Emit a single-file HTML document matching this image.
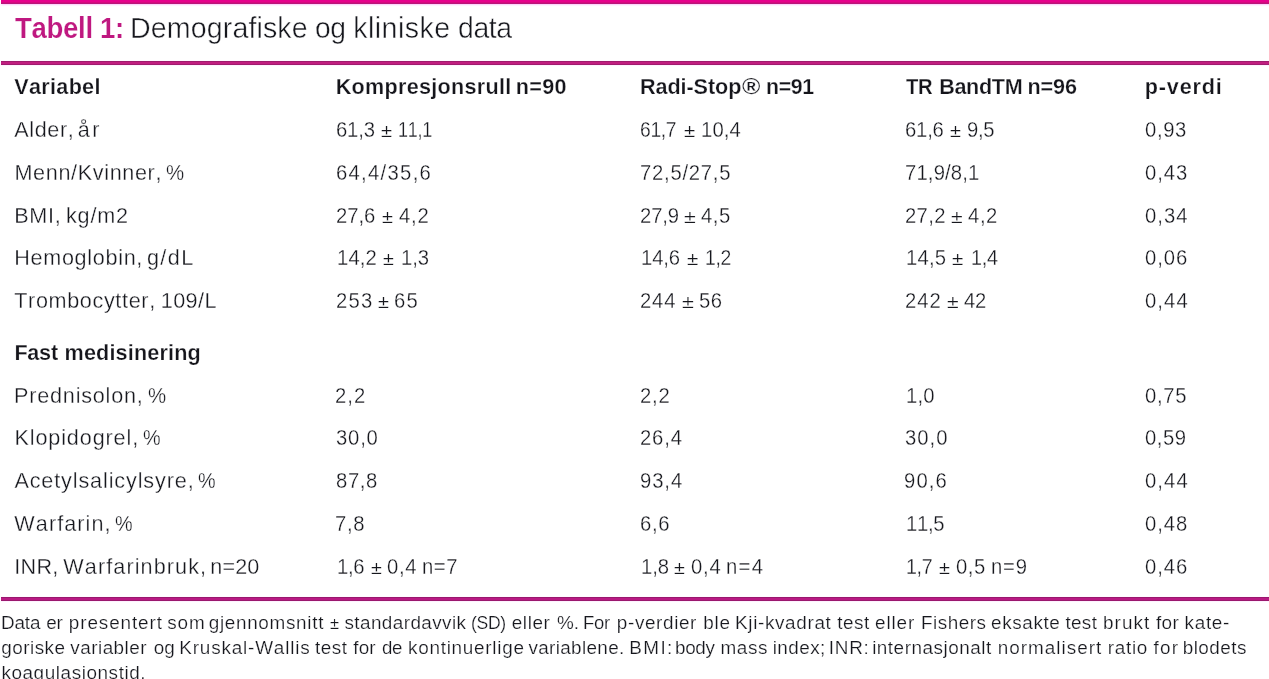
<!DOCTYPE html>
<html lang="no"><head><meta charset="utf-8"><title>Tabell 1</title>
<style>
html,body{margin:0;padding:0;background:#fff;}
body{width:1269px;height:679px;position:relative;overflow:hidden;font-family:"Liberation Sans", sans-serif;color:#16171d;}
.t{position:absolute;white-space:pre;line-height:1;font-kerning:none;transform-origin:0 0;}
.bar{position:absolute;left:1px;right:0;}
.g{display:block;margin:0;padding:0;border:0;height:0;font:inherit;}
</style></head><body>
<div class="bar" style="top:0;height:4px;background:linear-gradient(to bottom,#e6008c 0,#e6008c 2px,#d4087e 2px,#d4087e 3px,#b9147a 3px,#b9147a 4px);box-shadow:0 1px 1.5px 0.5px #fcd6fb"></div>
<div class="bar" style="top:61px;height:4px;background:linear-gradient(to bottom,#a01a6e 0,#a01a6e 1px,#c11e80 1px,#c11e80 3px,#a01a6e 3px,#a01a6e 4px);box-shadow:0 0 1.5px 0.5px #fcd6fb"></div>
<div class="bar" style="top:597px;height:4px;background:linear-gradient(to bottom,#9a186e 0,#9a186e 1px,#b91a83 1px,#b91a83 3px,#9a186e 3px,#9a186e 4px);box-shadow:0 0 1.5px 0.5px #fcd6fb"></div>
<h1 class="g">
<span class="t" style="left:14.79px;top:14.00px;font-size:28.6px;letter-spacing:-0.350px;transform:scaleX(0.9651);font-weight:700;-webkit-text-stroke:0.2px #fff;color:#bf1880;">Tabell 1:</span>
<span class="t" style="left:130.03px;top:14.00px;font-size:28.6px;letter-spacing:0.112px;-webkit-text-stroke:0.45px #fff;">Demografiske</span>
<span class="t" style="left:314.99px;top:14.00px;font-size:28.6px;letter-spacing:-0.350px;transform:scaleX(0.9871);-webkit-text-stroke:0.45px #fff;">og</span>
<span class="t" style="left:353.15px;top:14.00px;font-size:28.6px;letter-spacing:0.468px;-webkit-text-stroke:0.45px #fff;">kliniske</span>
<span class="t" style="left:457.58px;top:14.00px;font-size:28.6px;letter-spacing:-0.350px;transform:scaleX(0.9913);-webkit-text-stroke:0.45px #fff;">data</span>
</h1>
<div class="g" role="table">
<div class="g" role="row">
<div class="g" role="columnheader">
<span class="t" style="left:14.33px;top:76.00px;font-size:21.6px;letter-spacing:0.297px;font-weight:700;-webkit-text-stroke:0.25px #fff;color:#15151b;">Variabel</span>
</div>
<div class="g" role="columnheader">
<span class="t" style="left:335.73px;top:76.00px;font-size:21.6px;letter-spacing:0.285px;font-weight:700;-webkit-text-stroke:0.25px #fff;color:#15151b;">Kompresjonsrull</span>
<span class="t" style="left:515.75px;top:76.00px;font-size:21.6px;letter-spacing:0.342px;font-weight:700;-webkit-text-stroke:0.25px #fff;color:#15151b;">n=90</span>
</div>
<div class="g" role="columnheader">
<span class="t" style="left:639.93px;top:76.00px;font-size:21.6px;letter-spacing:-0.063px;font-weight:700;-webkit-text-stroke:0.25px #fff;color:#15151b;">Radi-Stop</span>
<span class="t" style="left:742.18px;top:76.00px;font-size:21.6px;letter-spacing:0.000px;transform:scaleX(1.1573);font-weight:700;-webkit-text-stroke:0.25px #fff;color:#15151b;">®</span>
<span class="t" style="left:766.07px;top:76.00px;font-size:21.6px;letter-spacing:-0.350px;transform:scaleX(0.987);font-weight:700;-webkit-text-stroke:0.25px #fff;color:#15151b;">n=91</span>
</div>
<div class="g" role="columnheader">
<span class="t" style="left:905.95px;top:76.00px;font-size:21.6px;letter-spacing:-0.350px;transform:scaleX(0.9349);font-weight:700;-webkit-text-stroke:0.25px #fff;color:#15151b;">TR</span>
<span class="t" style="left:939.13px;top:76.00px;font-size:21.6px;letter-spacing:-0.329px;font-weight:700;-webkit-text-stroke:0.25px #fff;color:#15151b;">BandTM</span>
<span class="t" style="left:1027.45px;top:76.00px;font-size:21.6px;letter-spacing:-0.060px;font-weight:700;-webkit-text-stroke:0.25px #fff;color:#15151b;">n=96</span>
</div>
<div class="g" role="columnheader">
<span class="t" style="left:1144.85px;top:76.00px;font-size:21.6px;letter-spacing:0.798px;font-weight:700;-webkit-text-stroke:0.25px #fff;color:#15151b;">p-verdi</span>
</div>
</div>
<div class="g" role="row">
<div class="g" role="cell">
<span class="t" style="left:14.31px;top:119.00px;font-size:21.6px;letter-spacing:0.611px;-webkit-text-stroke:0.3px #fff;">Alder,</span>
<span class="t" style="left:77.83px;top:119.00px;font-size:21.6px;letter-spacing:2.470px;-webkit-text-stroke:0.3px #fff;">år</span>
</div>
<div class="g" role="cell">
<span class="t" style="left:335.92px;top:119.00px;font-size:22.5px;letter-spacing:-0.183px;transform:scaleX(0.9);-webkit-text-stroke:0.3px #fff;">61,3</span>
<span class="t" style="left:381.05px;top:122.00px;font-size:18.9px;letter-spacing:0.000px;transform:scaleX(1.0694);-webkit-text-stroke:0.22px #fff;">±</span>
<span class="t" style="left:398.48px;top:119.00px;font-size:22.5px;letter-spacing:-0.350px;transform:scaleX(0.7989);-webkit-text-stroke:0.3px #fff;">11,1</span>
</div>
<div class="g" role="cell">
<span class="t" style="left:640.17px;top:119.00px;font-size:22.5px;letter-spacing:-0.350px;transform:scaleX(0.855);-webkit-text-stroke:0.3px #fff;">61,7</span>
<span class="t" style="left:683.64px;top:122.00px;font-size:18.9px;letter-spacing:0.000px;transform:scaleX(1.0803);-webkit-text-stroke:0.22px #fff;">±</span>
<span class="t" style="left:701.41px;top:119.00px;font-size:22.5px;letter-spacing:0.157px;transform:scaleX(0.9);-webkit-text-stroke:0.3px #fff;">10,4</span>
</div>
<div class="g" role="cell">
<span class="t" style="left:905.02px;top:119.00px;font-size:22.5px;letter-spacing:-0.220px;transform:scaleX(0.9);-webkit-text-stroke:0.3px #fff;">61,6</span>
<span class="t" style="left:949.96px;top:122.00px;font-size:18.9px;letter-spacing:0.000px;transform:scaleX(1.0585);-webkit-text-stroke:0.22px #fff;">±</span>
<span class="t" style="left:966.90px;top:119.00px;font-size:22.5px;letter-spacing:-0.350px;transform:scaleX(0.8993);-webkit-text-stroke:0.3px #fff;">9,5</span>
</div>
<div class="g" role="cell">
<span class="t" style="left:1145.26px;top:119.00px;font-size:22.5px;letter-spacing:0.692px;transform:scaleX(0.9);-webkit-text-stroke:0.3px #fff;">0,93</span>
</div>
</div>
<div class="g" role="row">
<div class="g" role="cell">
<span class="t" style="left:14.48px;top:162.00px;font-size:21.6px;letter-spacing:0.645px;-webkit-text-stroke:0.3px #fff;">Menn/Kvinner,</span>
<span class="t" style="left:166.02px;top:162.00px;font-size:21.6px;letter-spacing:0.000px;transform:scaleX(0.9453);-webkit-text-stroke:0.3px #fff;">%</span>
</div>
<div class="g" role="cell">
<span class="t" style="left:335.92px;top:162.00px;font-size:22.5px;letter-spacing:1.440px;transform:scaleX(0.9);-webkit-text-stroke:0.3px #fff;">64,4/35,6</span>
</div>
<div class="g" role="cell">
<span class="t" style="left:640.21px;top:162.00px;font-size:22.5px;letter-spacing:0.839px;transform:scaleX(0.9);-webkit-text-stroke:0.3px #fff;">72,5/27,5</span>
</div>
<div class="g" role="cell">
<span class="t" style="left:904.81px;top:162.00px;font-size:22.5px;letter-spacing:0.181px;transform:scaleX(0.9);-webkit-text-stroke:0.3px #fff;">71,9/8,1</span>
</div>
<div class="g" role="cell">
<span class="t" style="left:1145.26px;top:162.00px;font-size:22.5px;letter-spacing:1.099px;transform:scaleX(0.9);-webkit-text-stroke:0.3px #fff;">0,43</span>
</div>
</div>
<div class="g" role="row">
<div class="g" role="cell">
<span class="t" style="left:14.18px;top:205.00px;font-size:21.6px;letter-spacing:0.737px;-webkit-text-stroke:0.3px #fff;">BMI,</span>
<span class="t" style="left:65.99px;top:205.00px;font-size:21.6px;letter-spacing:0.805px;-webkit-text-stroke:0.3px #fff;">kg/m2</span>
</div>
<div class="g" role="cell">
<span class="t" style="left:336.13px;top:205.00px;font-size:22.5px;letter-spacing:-0.039px;transform:scaleX(0.9);-webkit-text-stroke:0.3px #fff;">27,6</span>
<span class="t" style="left:381.96px;top:208.00px;font-size:18.9px;letter-spacing:0.000px;transform:scaleX(1.0585);-webkit-text-stroke:0.22px #fff;">±</span>
<span class="t" style="left:399.09px;top:205.00px;font-size:22.5px;letter-spacing:0.907px;transform:scaleX(0.9);-webkit-text-stroke:0.3px #fff;">4,2</span>
</div>
<div class="g" role="cell">
<span class="t" style="left:639.83px;top:205.00px;font-size:22.5px;letter-spacing:-0.124px;transform:scaleX(0.9);-webkit-text-stroke:0.3px #fff;">27,9</span>
<span class="t" style="left:683.81px;top:208.00px;font-size:18.9px;letter-spacing:0.000px;transform:scaleX(1.1348);-webkit-text-stroke:0.22px #fff;">±</span>
<span class="t" style="left:701.49px;top:205.00px;font-size:22.5px;letter-spacing:0.647px;transform:scaleX(0.9);-webkit-text-stroke:0.3px #fff;">4,5</span>
</div>
<div class="g" role="cell">
<span class="t" style="left:904.73px;top:205.00px;font-size:22.5px;letter-spacing:0.379px;transform:scaleX(0.9);-webkit-text-stroke:0.3px #fff;">27,2</span>
<span class="t" style="left:951.02px;top:208.00px;font-size:18.9px;letter-spacing:0.000px;transform:scaleX(1.1239);-webkit-text-stroke:0.22px #fff;">±</span>
<span class="t" style="left:968.29px;top:205.00px;font-size:22.5px;letter-spacing:0.685px;transform:scaleX(0.9);-webkit-text-stroke:0.3px #fff;">4,2</span>
</div>
<div class="g" role="cell">
<span class="t" style="left:1145.26px;top:205.00px;font-size:22.5px;letter-spacing:1.138px;transform:scaleX(0.9);-webkit-text-stroke:0.3px #fff;">0,34</span>
</div>
</div>
<div class="g" role="row">
<div class="g" role="cell">
<span class="t" style="left:14.28px;top:247.00px;font-size:21.6px;letter-spacing:0.684px;-webkit-text-stroke:0.3px #fff;">Hemoglobin,</span>
<span class="t" style="left:146.94px;top:247.00px;font-size:21.6px;letter-spacing:1.428px;-webkit-text-stroke:0.3px #fff;">g/dL</span>
</div>
<div class="g" role="cell">
<span class="t" style="left:337.41px;top:247.00px;font-size:22.5px;letter-spacing:0.129px;transform:scaleX(0.9);-webkit-text-stroke:0.3px #fff;">14,2</span>
<span class="t" style="left:383.26px;top:250.00px;font-size:18.9px;letter-spacing:0.000px;transform:scaleX(1.0477);-webkit-text-stroke:0.22px #fff;">±</span>
<span class="t" style="left:400.81px;top:247.00px;font-size:22.5px;letter-spacing:-0.121px;transform:scaleX(0.9);-webkit-text-stroke:0.3px #fff;">1,3</span>
</div>
<div class="g" role="cell">
<span class="t" style="left:641.11px;top:247.00px;font-size:22.5px;letter-spacing:-0.141px;transform:scaleX(0.9);-webkit-text-stroke:0.3px #fff;">14,6</span>
<span class="t" style="left:686.64px;top:250.00px;font-size:18.9px;letter-spacing:0.000px;transform:scaleX(1.0912);-webkit-text-stroke:0.22px #fff;">±</span>
<span class="t" style="left:705.07px;top:247.00px;font-size:22.5px;letter-spacing:-0.350px;transform:scaleX(0.8618);-webkit-text-stroke:0.3px #fff;">1,2</span>
</div>
<div class="g" role="cell">
<span class="t" style="left:906.41px;top:247.00px;font-size:22.5px;letter-spacing:0.252px;transform:scaleX(0.9);-webkit-text-stroke:0.3px #fff;">14,5</span>
<span class="t" style="left:952.44px;top:250.00px;font-size:18.9px;letter-spacing:0.000px;transform:scaleX(1.0912);-webkit-text-stroke:0.22px #fff;">±</span>
<span class="t" style="left:970.94px;top:247.00px;font-size:22.5px;letter-spacing:-0.350px;transform:scaleX(0.8793);-webkit-text-stroke:0.3px #fff;">1,4</span>
</div>
<div class="g" role="cell">
<span class="t" style="left:1145.26px;top:247.00px;font-size:22.5px;letter-spacing:1.099px;transform:scaleX(0.9);-webkit-text-stroke:0.3px #fff;">0,06</span>
</div>
</div>
<div class="g" role="row">
<div class="g" role="cell">
<span class="t" style="left:14.26px;top:290.00px;font-size:21.6px;letter-spacing:0.641px;-webkit-text-stroke:0.3px #fff;">Trombocytter,</span>
<span class="t" style="left:160.80px;top:290.00px;font-size:21.6px;letter-spacing:0.402px;-webkit-text-stroke:0.3px #fff;">109/L</span>
</div>
<div class="g" role="cell">
<span class="t" style="left:336.13px;top:290.00px;font-size:22.5px;letter-spacing:1.401px;transform:scaleX(0.9);-webkit-text-stroke:0.3px #fff;">253</span>
<span class="t" style="left:378.16px;top:293.00px;font-size:18.9px;letter-spacing:0.000px;transform:scaleX(1.0585);-webkit-text-stroke:0.22px #fff;">±</span>
<span class="t" style="left:394.42px;top:290.00px;font-size:22.5px;letter-spacing:1.505px;transform:scaleX(0.9);-webkit-text-stroke:0.3px #fff;">65</span>
</div>
<div class="g" role="cell">
<span class="t" style="left:639.83px;top:290.00px;font-size:22.5px;letter-spacing:0.903px;transform:scaleX(0.9);-webkit-text-stroke:0.3px #fff;">244</span>
<span class="t" style="left:681.50px;top:293.00px;font-size:18.9px;letter-spacing:0.000px;transform:scaleX(1.1457);-webkit-text-stroke:0.22px #fff;">±</span>
<span class="t" style="left:698.94px;top:290.00px;font-size:22.5px;letter-spacing:0.529px;transform:scaleX(0.9);-webkit-text-stroke:0.3px #fff;">56</span>
</div>
<div class="g" role="cell">
<span class="t" style="left:904.73px;top:290.00px;font-size:22.5px;letter-spacing:1.139px;transform:scaleX(0.9);-webkit-text-stroke:0.3px #fff;">242</span>
<span class="t" style="left:946.62px;top:293.00px;font-size:18.9px;letter-spacing:0.000px;transform:scaleX(1.1239);-webkit-text-stroke:0.22px #fff;">±</span>
<span class="t" style="left:964.09px;top:290.00px;font-size:22.5px;letter-spacing:-0.350px;transform:scaleX(0.8989);-webkit-text-stroke:0.3px #fff;">42</span>
</div>
<div class="g" role="cell">
<span class="t" style="left:1145.26px;top:290.00px;font-size:22.5px;letter-spacing:1.212px;transform:scaleX(0.9);-webkit-text-stroke:0.3px #fff;">0,44</span>
</div>
</div>
<div class="g" role="row">
<div class="g" role="cell">
<span class="t" style="left:14.43px;top:342.00px;font-size:21.6px;letter-spacing:-0.251px;font-weight:700;-webkit-text-stroke:0.25px #fff;color:#15151b;">Fast</span>
<span class="t" style="left:64.55px;top:342.00px;font-size:21.6px;letter-spacing:0.163px;font-weight:700;-webkit-text-stroke:0.25px #fff;color:#15151b;">medisinering</span>
</div>
</div>
<div class="g" role="row">
<div class="g" role="cell">
<span class="t" style="left:14.08px;top:385.00px;font-size:21.6px;letter-spacing:0.785px;-webkit-text-stroke:0.3px #fff;">Prednisolon,</span>
<span class="t" style="left:147.92px;top:385.00px;font-size:21.6px;letter-spacing:0.000px;transform:scaleX(0.9453);-webkit-text-stroke:0.3px #fff;">%</span>
</div>
<div class="g" role="cell">
<span class="t" style="left:335.43px;top:385.00px;font-size:22.5px;letter-spacing:1.104px;transform:scaleX(0.9);-webkit-text-stroke:0.3px #fff;">2,2</span>
</div>
<div class="g" role="cell">
<span class="t" style="left:639.83px;top:385.00px;font-size:22.5px;letter-spacing:0.881px;transform:scaleX(0.9);-webkit-text-stroke:0.3px #fff;">2,2</span>
</div>
<div class="g" role="cell">
<span class="t" style="left:905.61px;top:385.00px;font-size:22.5px;letter-spacing:0.268px;transform:scaleX(0.9);-webkit-text-stroke:0.3px #fff;">1,0</span>
</div>
<div class="g" role="cell">
<span class="t" style="left:1145.26px;top:385.00px;font-size:22.5px;letter-spacing:0.751px;transform:scaleX(0.9);-webkit-text-stroke:0.3px #fff;">0,75</span>
</div>
</div>
<div class="g" role="row">
<div class="g" role="cell">
<span class="t" style="left:14.48px;top:427.00px;font-size:21.6px;letter-spacing:0.876px;-webkit-text-stroke:0.3px #fff;">Klopidogrel,</span>
<span class="t" style="left:143.34px;top:427.00px;font-size:21.6px;letter-spacing:0.000px;transform:scaleX(0.917);-webkit-text-stroke:0.3px #fff;">%</span>
</div>
<div class="g" role="cell">
<span class="t" style="left:335.68px;top:427.00px;font-size:22.5px;letter-spacing:0.907px;transform:scaleX(0.9);-webkit-text-stroke:0.3px #fff;">30,0</span>
</div>
<div class="g" role="cell">
<span class="t" style="left:640.03px;top:427.00px;font-size:22.5px;letter-spacing:0.926px;transform:scaleX(0.9);-webkit-text-stroke:0.3px #fff;">26,4</span>
</div>
<div class="g" role="cell">
<span class="t" style="left:904.58px;top:427.00px;font-size:22.5px;letter-spacing:1.167px;transform:scaleX(0.9);-webkit-text-stroke:0.3px #fff;">30,0</span>
</div>
<div class="g" role="cell">
<span class="t" style="left:1145.26px;top:427.00px;font-size:22.5px;letter-spacing:0.570px;transform:scaleX(0.9);-webkit-text-stroke:0.3px #fff;">0,59</span>
</div>
</div>
<div class="g" role="row">
<div class="g" role="cell">
<span class="t" style="left:14.41px;top:470.00px;font-size:21.6px;letter-spacing:0.873px;-webkit-text-stroke:0.3px #fff;">Acetylsalicylsyre,</span>
<span class="t" style="left:198.34px;top:470.00px;font-size:21.6px;letter-spacing:0.000px;transform:scaleX(0.917);-webkit-text-stroke:0.3px #fff;">%</span>
</div>
<div class="g" role="cell">
<span class="t" style="left:335.57px;top:470.00px;font-size:22.5px;letter-spacing:0.721px;transform:scaleX(0.9);-webkit-text-stroke:0.3px #fff;">87,8</span>
</div>
<div class="g" role="cell">
<span class="t" style="left:640.10px;top:470.00px;font-size:22.5px;letter-spacing:1.011px;transform:scaleX(0.9);-webkit-text-stroke:0.3px #fff;">93,4</span>
</div>
<div class="g" role="cell">
<span class="t" style="left:904.40px;top:470.00px;font-size:22.5px;letter-spacing:1.269px;transform:scaleX(0.9);-webkit-text-stroke:0.3px #fff;">90,6</span>
</div>
<div class="g" role="cell">
<span class="t" style="left:1145.26px;top:470.00px;font-size:22.5px;letter-spacing:1.212px;transform:scaleX(0.9);-webkit-text-stroke:0.3px #fff;">0,44</span>
</div>
</div>
<div class="g" role="row">
<div class="g" role="cell">
<span class="t" style="left:14.36px;top:513.00px;font-size:21.6px;letter-spacing:1.065px;-webkit-text-stroke:0.3px #fff;">Warfarin,</span>
<span class="t" style="left:115.14px;top:513.00px;font-size:21.6px;letter-spacing:0.000px;transform:scaleX(0.917);-webkit-text-stroke:0.3px #fff;">%</span>
</div>
<div class="g" role="cell">
<span class="t" style="left:335.41px;top:513.00px;font-size:22.5px;letter-spacing:0.816px;transform:scaleX(0.9);-webkit-text-stroke:0.3px #fff;">7,8</span>
</div>
<div class="g" role="cell">
<span class="t" style="left:640.02px;top:513.00px;font-size:22.5px;letter-spacing:0.760px;transform:scaleX(0.9);-webkit-text-stroke:0.3px #fff;">6,6</span>
</div>
<div class="g" role="cell">
<span class="t" style="left:906.21px;top:513.00px;font-size:22.5px;letter-spacing:-0.304px;transform:scaleX(0.9);-webkit-text-stroke:0.3px #fff;">11,5</span>
</div>
<div class="g" role="cell">
<span class="t" style="left:1145.26px;top:513.00px;font-size:22.5px;letter-spacing:1.096px;transform:scaleX(0.9);-webkit-text-stroke:0.3px #fff;">0,48</span>
</div>
</div>
<div class="g" role="row">
<div class="g" role="cell">
<span class="t" style="left:14.36px;top:556.00px;font-size:21.6px;letter-spacing:0.245px;-webkit-text-stroke:0.3px #fff;">INR,</span>
<span class="t" style="left:63.36px;top:556.00px;font-size:21.6px;letter-spacing:1.092px;-webkit-text-stroke:0.3px #fff;">Warfarinbruk,</span>
<span class="t" style="left:210.22px;top:556.00px;font-size:21.6px;letter-spacing:0.175px;-webkit-text-stroke:0.3px #fff;">n=20</span>
</div>
<div class="g" role="cell">
<span class="t" style="left:336.91px;top:556.00px;font-size:22.5px;letter-spacing:-0.343px;transform:scaleX(0.9);-webkit-text-stroke:0.3px #fff;">1,6</span>
<span class="t" style="left:370.66px;top:559.00px;font-size:18.9px;letter-spacing:0.000px;transform:scaleX(1.0477);-webkit-text-stroke:0.22px #fff;">±</span>
<span class="t" style="left:387.36px;top:556.00px;font-size:22.5px;letter-spacing:0.741px;transform:scaleX(0.9);-webkit-text-stroke:0.3px #fff;">0,4</span>
<span class="t" style="left:422.41px;top:556.00px;font-size:22.5px;letter-spacing:0.619px;transform:scaleX(0.9);-webkit-text-stroke:0.3px #fff;">n=7</span>
</div>
<div class="g" role="cell">
<span class="t" style="left:640.91px;top:556.00px;font-size:22.5px;letter-spacing:-0.127px;transform:scaleX(0.9);-webkit-text-stroke:0.3px #fff;">1,8</span>
<span class="t" style="left:674.26px;top:559.00px;font-size:18.9px;letter-spacing:0.000px;transform:scaleX(1.0477);-webkit-text-stroke:0.22px #fff;">±</span>
<span class="t" style="left:691.06px;top:556.00px;font-size:22.5px;letter-spacing:0.908px;transform:scaleX(0.9);-webkit-text-stroke:0.3px #fff;">0,4</span>
<span class="t" style="left:726.41px;top:556.00px;font-size:22.5px;letter-spacing:1.438px;transform:scaleX(0.9);-webkit-text-stroke:0.3px #fff;">n=4</span>
</div>
<div class="g" role="cell">
<span class="t" style="left:906.45px;top:556.00px;font-size:22.5px;letter-spacing:-0.350px;transform:scaleX(0.8726);-webkit-text-stroke:0.3px #fff;">1,7</span>
<span class="t" style="left:939.16px;top:559.00px;font-size:18.9px;letter-spacing:0.000px;transform:scaleX(1.0585);-webkit-text-stroke:0.22px #fff;">±</span>
<span class="t" style="left:956.06px;top:556.00px;font-size:22.5px;letter-spacing:0.662px;transform:scaleX(0.9);-webkit-text-stroke:0.3px #fff;">0,5</span>
<span class="t" style="left:991.11px;top:556.00px;font-size:22.5px;letter-spacing:0.919px;transform:scaleX(0.9);-webkit-text-stroke:0.3px #fff;">n=9</span>
</div>
<div class="g" role="cell">
<span class="t" style="left:1145.26px;top:556.00px;font-size:22.5px;letter-spacing:1.099px;transform:scaleX(0.9);-webkit-text-stroke:0.3px #fff;">0,46</span>
</div>
</div>
</div>
<p class="g">
<span class="t" style="left:0.94px;top:614.00px;font-size:18.9px;letter-spacing:-0.117px;-webkit-text-stroke:0.22px #fff;">Data</span>
<span class="t" style="left:46.19px;top:614.00px;font-size:18.9px;letter-spacing:-0.168px;-webkit-text-stroke:0.22px #fff;">er</span>
<span class="t" style="left:68.87px;top:614.00px;font-size:18.9px;letter-spacing:0.887px;-webkit-text-stroke:0.22px #fff;">presentert</span>
<span class="t" style="left:167.16px;top:614.00px;font-size:18.9px;letter-spacing:0.893px;-webkit-text-stroke:0.22px #fff;">som</span>
<span class="t" style="left:208.70px;top:614.00px;font-size:18.9px;letter-spacing:0.690px;-webkit-text-stroke:0.22px #fff;">gjennomsnitt</span>
<span class="t" style="left:329.77px;top:616.00px;font-size:15.88px;letter-spacing:0.000px;transform:scaleX(1.0395);-webkit-text-stroke:0.22px #fff;">±</span>
<span class="t" style="left:344.46px;top:614.00px;font-size:18.9px;letter-spacing:0.417px;-webkit-text-stroke:0.22px #fff;">standardavvik</span>
<span class="t" style="left:471.30px;top:614.00px;font-size:18.9px;letter-spacing:-0.350px;transform:scaleX(0.9315);-webkit-text-stroke:0.22px #fff;">(SD)</span>
<span class="t" style="left:511.69px;top:614.00px;font-size:18.9px;letter-spacing:0.631px;-webkit-text-stroke:0.22px #fff;">eller</span>
<span class="t" style="left:556.92px;top:614.00px;font-size:18.9px;letter-spacing:0.163px;-webkit-text-stroke:0.22px #fff;">%.</span>
<span class="t" style="left:582.67px;top:614.00px;font-size:18.9px;letter-spacing:-0.350px;transform:scaleX(0.9781);-webkit-text-stroke:0.22px #fff;">For</span>
<span class="t" style="left:616.87px;top:614.00px;font-size:18.9px;letter-spacing:0.622px;-webkit-text-stroke:0.22px #fff;">p-verdier</span>
<span class="t" style="left:703.17px;top:614.00px;font-size:18.9px;letter-spacing:0.828px;-webkit-text-stroke:0.22px #fff;">ble</span>
<span class="t" style="left:735.04px;top:614.00px;font-size:18.9px;letter-spacing:0.653px;-webkit-text-stroke:0.22px #fff;">Kji-kvadrat</span>
<span class="t" style="left:837.20px;top:614.00px;font-size:18.9px;letter-spacing:0.560px;-webkit-text-stroke:0.22px #fff;">test</span>
<span class="t" style="left:875.09px;top:614.00px;font-size:18.9px;letter-spacing:0.881px;-webkit-text-stroke:0.22px #fff;">eller</span>
<span class="t" style="left:921.04px;top:614.00px;font-size:18.9px;letter-spacing:0.482px;-webkit-text-stroke:0.22px #fff;">Fishers</span>
<span class="t" style="left:991.09px;top:614.00px;font-size:18.9px;letter-spacing:0.605px;-webkit-text-stroke:0.22px #fff;">eksakte</span>
<span class="t" style="left:1065.40px;top:614.00px;font-size:18.9px;letter-spacing:0.360px;-webkit-text-stroke:0.22px #fff;">test</span>
<span class="t" style="left:1102.97px;top:614.00px;font-size:18.9px;letter-spacing:1.090px;-webkit-text-stroke:0.22px #fff;">brukt</span>
<span class="t" style="left:1155.92px;top:614.00px;font-size:18.9px;letter-spacing:0.423px;-webkit-text-stroke:0.22px #fff;">for</span>
<span class="t" style="left:1184.52px;top:614.00px;font-size:18.9px;letter-spacing:0.704px;-webkit-text-stroke:0.22px #fff;">kate-</span>
<span class="t" style="left:1.20px;top:639.00px;font-size:18.9px;letter-spacing:0.488px;-webkit-text-stroke:0.22px #fff;">goriske</span>
<span class="t" style="left:70.33px;top:639.00px;font-size:18.9px;letter-spacing:0.465px;-webkit-text-stroke:0.22px #fff;">variabler</span>
<span class="t" style="left:153.70px;top:639.00px;font-size:18.9px;letter-spacing:0.009px;-webkit-text-stroke:0.22px #fff;">og</span>
<span class="t" style="left:179.34px;top:639.00px;font-size:18.9px;letter-spacing:0.826px;-webkit-text-stroke:0.22px #fff;">Kruskal-Wallis</span>
<span class="t" style="left:314.90px;top:639.00px;font-size:18.9px;letter-spacing:0.560px;-webkit-text-stroke:0.22px #fff;">test</span>
<span class="t" style="left:353.22px;top:639.00px;font-size:18.9px;letter-spacing:0.173px;-webkit-text-stroke:0.22px #fff;">for</span>
<span class="t" style="left:382.11px;top:639.00px;font-size:18.9px;letter-spacing:-0.350px;transform:scaleX(0.9885);-webkit-text-stroke:0.22px #fff;">de</span>
<span class="t" style="left:408.02px;top:639.00px;font-size:18.9px;letter-spacing:0.730px;-webkit-text-stroke:0.22px #fff;">kontinuerlige</span>
<span class="t" style="left:528.43px;top:639.00px;font-size:18.9px;letter-spacing:0.345px;-webkit-text-stroke:0.22px #fff;">variablene.</span>
<span class="t" style="left:629.34px;top:639.00px;font-size:18.9px;letter-spacing:1.381px;-webkit-text-stroke:0.22px #fff;">BMI:</span>
<span class="t" style="left:675.07px;top:639.00px;font-size:18.9px;letter-spacing:-0.350px;transform:scaleX(0.9985);-webkit-text-stroke:0.22px #fff;">body</span>
<span class="t" style="left:720.43px;top:639.00px;font-size:18.9px;letter-spacing:0.668px;-webkit-text-stroke:0.22px #fff;">mass</span>
<span class="t" style="left:772.63px;top:639.00px;font-size:18.9px;letter-spacing:0.450px;-webkit-text-stroke:0.22px #fff;">index;</span>
<span class="t" style="left:828.75px;top:639.00px;font-size:18.9px;letter-spacing:0.763px;-webkit-text-stroke:0.22px #fff;">INR:</span>
<span class="t" style="left:872.13px;top:639.00px;font-size:18.9px;letter-spacing:0.515px;-webkit-text-stroke:0.22px #fff;">internasjonalt</span>
<span class="t" style="left:997.63px;top:639.00px;font-size:18.9px;letter-spacing:1.024px;-webkit-text-stroke:0.22px #fff;">normalisert</span>
<span class="t" style="left:1107.83px;top:639.00px;font-size:18.9px;letter-spacing:0.701px;-webkit-text-stroke:0.22px #fff;">ratio</span>
<span class="t" style="left:1153.42px;top:639.00px;font-size:18.9px;letter-spacing:1.323px;-webkit-text-stroke:0.22px #fff;">for</span>
<span class="t" style="left:1182.67px;top:639.00px;font-size:18.9px;letter-spacing:0.496px;-webkit-text-stroke:0.22px #fff;">blodets</span>
<span class="t" style="left:1.42px;top:664.00px;font-size:18.9px;letter-spacing:0.579px;-webkit-text-stroke:0.22px #fff;">koagulasjonstid.</span>
</p>
</body></html>
